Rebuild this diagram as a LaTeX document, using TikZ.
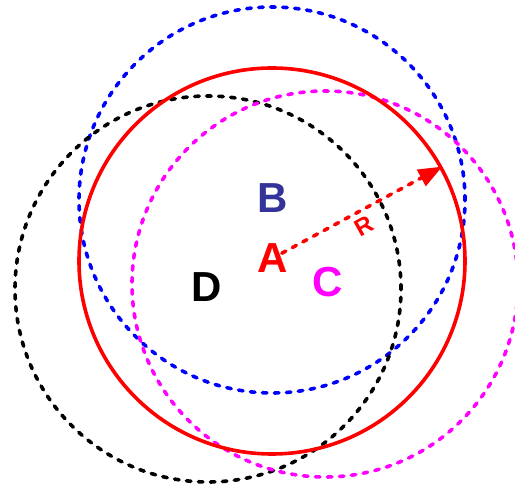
\documentclass[tikz,border=0pt]{standalone}
\usepackage{fontspec}
\setmainfont{Liberation Sans}
\usetikzlibrary{arrows.meta}
\definecolor{navy}{RGB}{51,51,153}
\definecolor{pinkC}{RGB}{255,0,255}
\definecolor{blueB}{RGB}{0,0,255}
\definecolor{redA}{RGB}{255,0,0}

\begin{document}
\begin{tikzpicture}[x=1pt, y=-1pt,
		zone/.style={draw, circle, inner sep=0pt, minimum size=386pt, line width=3.6pt},
		dashzone/.style={zone, line width=3.6pt, line cap=round, dash pattern=on 4.5pt off 7.5pt},
		letter/.style={font=\fontsize{42}{42}\selectfont\bfseries, inner sep=0pt},
		radius/.style={redA, line width=3.6pt, line cap=round, dash pattern=on 4.5pt off 7.5pt, -{Triangle[length=24pt,width=18pt]}}
		]
		\clip (0,0) rectangle (515,486);
		
		\node[dashzone, draw=blueB] (Bc) at (272,200) {};
		\node[dashzone, draw=black] (Dc) at (208,289) {};
		\node[dashzone, draw=pinkC] (Cc) at (325,284) {};
		\node[zone, draw=redA] (Rc) at (272,261) {};
		
		\node[letter, text=navy] (B) at (273,198) {B};
		\node[letter, text=redA] (A) at (273,258) {A};
		\node[letter, text=black] (D) at (207,287) {D};
		\node[letter, text=pinkC] (C) at (328,282) {C};
		
		\draw[radius, shorten <=10pt] (A.center) -- (Rc.29);
		\node[text=redA, font=\fontsize{24}{24}\selectfont\bfseries, rotate=29, inner sep=0pt] (Rlab) at (364,226) {R};
		
	\end{tikzpicture}
\end{document}
